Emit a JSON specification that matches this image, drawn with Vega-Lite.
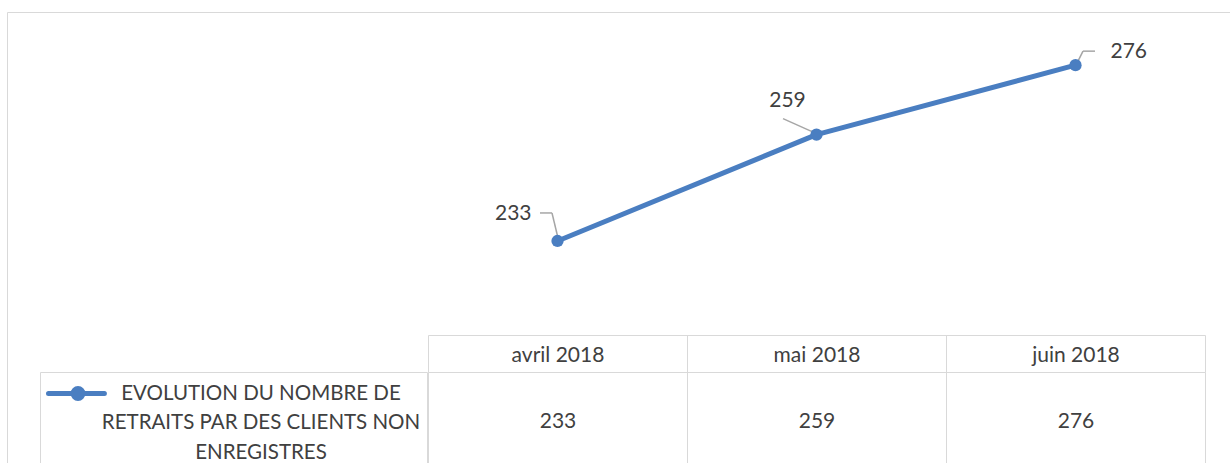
{
  "$schema": "https://vega.github.io/schema/vega-lite/v6.json",
  "width": 1228,
  "height": 456,
  "autosize": {"type": "none"},
  "padding": {"left": 7, "top": 12, "right": -5, "bottom": -5},
  "background": "white",
  "config": {
    "view": {"stroke": "#D9D9D9", "strokeWidth": 1},
    "font": "Lato"
  },
  "datasets": {
    "d": [
      {"month": "avril 2018", "value": 233, "series": "EVOLUTION DU NOMBRE DE\nRETRAITS PAR DES CLIENTS NON\nENREGISTRES"},
      {"month": "mai 2018", "value": 259, "series": "EVOLUTION DU NOMBRE DE\nRETRAITS PAR DES CLIENTS NON\nENREGISTRES"},
      {"month": "juin 2018", "value": 276, "series": "EVOLUTION DU NOMBRE DE\nRETRAITS PAR DES CLIENTS NON\nENREGISTRES"}
    ]
  },
  "data": {"name": "d"},
  "resolve": {"scale": {"x": "independent"}, "axis": {"x": "independent"}},
  "layer": [
    {
      "mark": {"type": "line", "strokeWidth": 5, "strokeJoin": "round"},
      "encoding": {
        "x": {
          "field": "month", "type": "nominal",
          "scale": {"type": "band", "domain": ["avril 2018", "mai 2018", "juin 2018"], "range": [421, 1198], "paddingInner": 0, "paddingOuter": 0},
          "axis": {
            "orient": "bottom", "offset": -133, "title": null,
            "domainColor": "#D9D9D9", "domainWidth": 1,
            "tickColor": "#D9D9D9", "tickWidth": 1, "tickBand": "extent", "tickSize": 37,
            "labelAngle": 0, "labelFont": "Lato", "labelFontSize": 21, "labelColor": "#404040",
            "labelBaseline": "middle", "labelPadding": -17, "labelOverlap": false
          }
        },
        "y": {"field": "value", "type": "quantitative", "scale": {"domain": [210, 289], "range": [323, 0], "nice": false, "zero": false}, "axis": null},
        "color": {
          "field": "series", "type": "nominal",
          "scale": {"range": ["#4A7EC1"]},
          "legend": {
            "orient": "none", "legendX": 33, "legendY": 360, "title": null,
            "strokeColor": "#D9D9D9", "fillColor": "white", "padding": 6,
            "symbolType": "M-1,0L3.3,0M1.65,0A0.38,0.38,0,1,1,0.89,0A0.38,0.38,0,1,1,1.65,0Z",
            "symbolSize": 676, "symbolStrokeWidth": 5,
            "labelFont": "Lato", "labelFontSize": 20.5, "labelColor": "#404040",
            "labelExpr": "split(datum.label, '\\n')",
            "labelAlign": "center", "labelBaseline": "middle", "labelOffset": 184, "labelLimit": 600,
            "encode": {
              "symbols": {"update": {"fill": {"value": "#4A7EC1"}, "stroke": {"value": "#4A7EC1"}, "strokeWidth": {"value": 5}, "strokeCap": {"value": "round"}, "opacity": {"value": 1}}},
              "labels": {"update": {"lineHeight": {"value": 29.5}}}
            }
          }
        }
      }
    },
    {
      "transform": [{"filter": "datum.month == 'avril 2018'"}],
      "mark": {"type": "rule", "color": "#A6A6A6", "strokeWidth": 1.5, "xOffset": -17.5, "yOffset": -28, "x2Offset": -5.5, "y2Offset": -28},
      "encoding": {
        "x": {"field": "month", "type": "nominal", "bandPosition": 0.5, "scale": {"type": "band", "domain": ["avril 2018", "mai 2018", "juin 2018"], "range": [421, 1198], "paddingInner": 0, "paddingOuter": 0}, "axis": null},
        "x2": {"field": "month", "bandPosition": 0.5},
        "y": {"field": "value", "type": "quantitative", "scale": {"domain": [210, 289], "range": [323, 0], "nice": false, "zero": false}, "axis": null},
        "y2": {"field": "value"}
      }
    },
    {
      "transform": [{"filter": "datum.month == 'avril 2018'"}],
      "mark": {"type": "rule", "color": "#A6A6A6", "strokeWidth": 1.5, "xOffset": -5.5, "yOffset": -28, "x2Offset": 0.5, "y2Offset": -3},
      "encoding": {
        "x": {"field": "month", "type": "nominal", "bandPosition": 0.5, "scale": {"type": "band", "domain": ["avril 2018", "mai 2018", "juin 2018"], "range": [421, 1198], "paddingInner": 0, "paddingOuter": 0}, "axis": null},
        "x2": {"field": "month", "bandPosition": 0.5},
        "y": {"field": "value", "type": "quantitative", "scale": {"domain": [210, 289], "range": [323, 0], "nice": false, "zero": false}, "axis": null},
        "y2": {"field": "value"}
      }
    },
    {
      "transform": [{"filter": "datum.month == 'mai 2018'"}],
      "mark": {"type": "rule", "color": "#A6A6A6", "strokeWidth": 1.5, "xOffset": -33.5, "yOffset": -16, "x2Offset": 0, "y2Offset": -1},
      "encoding": {
        "x": {"field": "month", "type": "nominal", "bandPosition": 0.5, "scale": {"type": "band", "domain": ["avril 2018", "mai 2018", "juin 2018"], "range": [421, 1198], "paddingInner": 0, "paddingOuter": 0}, "axis": null},
        "x2": {"field": "month", "bandPosition": 0.5},
        "y": {"field": "value", "type": "quantitative", "scale": {"domain": [210, 289], "range": [323, 0], "nice": false, "zero": false}, "axis": null},
        "y2": {"field": "value"}
      }
    },
    {
      "transform": [{"filter": "datum.month == 'juin 2018'"}],
      "mark": {"type": "rule", "color": "#A6A6A6", "strokeWidth": 1.5, "xOffset": 19.5, "yOffset": -14, "x2Offset": 7.5, "y2Offset": -14},
      "encoding": {
        "x": {"field": "month", "type": "nominal", "bandPosition": 0.5, "scale": {"type": "band", "domain": ["avril 2018", "mai 2018", "juin 2018"], "range": [421, 1198], "paddingInner": 0, "paddingOuter": 0}, "axis": null},
        "x2": {"field": "month", "bandPosition": 0.5},
        "y": {"field": "value", "type": "quantitative", "scale": {"domain": [210, 289], "range": [323, 0], "nice": false, "zero": false}, "axis": null},
        "y2": {"field": "value"}
      }
    },
    {
      "transform": [{"filter": "datum.month == 'juin 2018'"}],
      "mark": {"type": "rule", "color": "#A6A6A6", "strokeWidth": 1.5, "xOffset": 7.5, "yOffset": -14, "x2Offset": 1.5, "y2Offset": -2},
      "encoding": {
        "x": {"field": "month", "type": "nominal", "bandPosition": 0.5, "scale": {"type": "band", "domain": ["avril 2018", "mai 2018", "juin 2018"], "range": [421, 1198], "paddingInner": 0, "paddingOuter": 0}, "axis": null},
        "x2": {"field": "month", "bandPosition": 0.5},
        "y": {"field": "value", "type": "quantitative", "scale": {"domain": [210, 289], "range": [323, 0], "nice": false, "zero": false}, "axis": null},
        "y2": {"field": "value"}
      }
    },
    {
      "mark": {"type": "point", "filled": true, "size": 150, "opacity": 1},
      "encoding": {
        "x": {
          "field": "value", "type": "ordinal",
          "scale": {"type": "band", "range": [421, 1198], "paddingInner": 0, "paddingOuter": 0},
          "axis": {
            "orient": "bottom", "offset": -96, "title": null,
            "domainColor": "#D9D9D9", "domainWidth": 1,
            "tickColor": "#D9D9D9", "tickWidth": 1, "tickBand": "extent", "tickSize": 110,
            "labelAngle": 0, "labelFont": "Lato", "labelFontSize": 21, "labelColor": "#404040",
            "labelBaseline": "middle", "labelPadding": -61, "labelOverlap": false
          }
        },
        "y": {"field": "value", "type": "quantitative", "scale": {"domain": [210, 289], "range": [323, 0], "nice": false, "zero": false}, "axis": null},
        "color": {"field": "series", "type": "nominal", "scale": {"range": ["#4A7EC1"]}}
      }
    },
    {
      "transform": [{"filter": "datum.month == 'avril 2018'"}],
      "mark": {"type": "text", "align": "right", "baseline": "middle", "dx": -26, "dy": -27, "font": "Lato", "fontSize": 21, "fill": "#404040"},
      "encoding": {
        "x": {"field": "month", "type": "nominal", "scale": {"type": "band", "domain": ["avril 2018", "mai 2018", "juin 2018"], "range": [421, 1198], "paddingInner": 0, "paddingOuter": 0}, "axis": null},
        "y": {"field": "value", "type": "quantitative", "scale": {"domain": [210, 289], "range": [323, 0], "nice": false, "zero": false}, "axis": null},
        "text": {"field": "value"}
      }
    },
    {
      "transform": [{"filter": "datum.month == 'mai 2018'"}],
      "mark": {"type": "text", "align": "center", "baseline": "middle", "dx": -29, "dy": -34, "font": "Lato", "fontSize": 21, "fill": "#404040"},
      "encoding": {
        "x": {"field": "month", "type": "nominal", "scale": {"type": "band", "domain": ["avril 2018", "mai 2018", "juin 2018"], "range": [421, 1198], "paddingInner": 0, "paddingOuter": 0}, "axis": null},
        "y": {"field": "value", "type": "quantitative", "scale": {"domain": [210, 289], "range": [323, 0], "nice": false, "zero": false}, "axis": null},
        "text": {"field": "value"}
      }
    },
    {
      "transform": [{"filter": "datum.month == 'juin 2018'"}],
      "mark": {"type": "text", "align": "left", "baseline": "middle", "dx": 35, "dy": -13, "font": "Lato", "fontSize": 21, "fill": "#404040"},
      "encoding": {
        "x": {"field": "month", "type": "nominal", "scale": {"type": "band", "domain": ["avril 2018", "mai 2018", "juin 2018"], "range": [421, 1198], "paddingInner": 0, "paddingOuter": 0}, "axis": null},
        "y": {"field": "value", "type": "quantitative", "scale": {"domain": [210, 289], "range": [323, 0], "nice": false, "zero": false}, "axis": null},
        "text": {"field": "value"}
      }
    }
  ]
}
